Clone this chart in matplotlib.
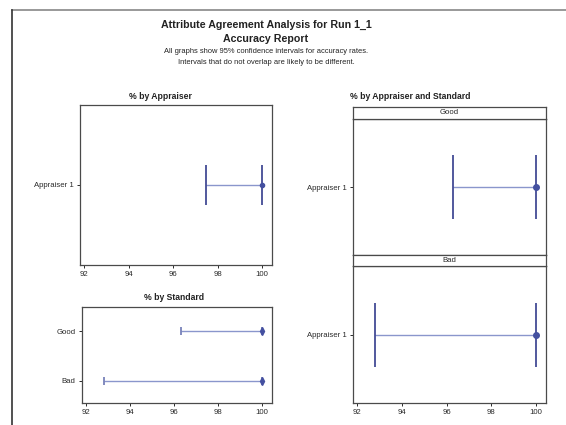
import numpy as np
import matplotlib.pyplot as plt
from matplotlib.lines import Line2D

plt.rcParams['font.family'] = ['Liberation Sans', 'DejaVu Sans']

# Dados (intervalos de 95% para a taxa de acerto)
appraisers = ['Appraiser 1']
appr_pct = [100.0]
appr_lo = [97.5]
appr_hi = [100.0]

standards = ['Bad', 'Good']
std_pct = [100.0, 100.0]
std_lo = [92.8, 96.3]
std_hi = [100.0, 100.0]

panels = ['Good', 'Bad']
panel_pct = [100.0, 100.0]
panel_lo = [96.3, 92.8]
panel_hi = [100.0, 100.0]

xticks = [92, 94, 96, 98, 100]
xlim = (91.8, 100.45)

line_col = '#8a96cc'
cap_col = '#343c8c'
pt_col = '#4450a0'
spine_col = '#4a4a4a'

fig = plt.figure(figsize=(5.66, 4.25), dpi=100)


def style_axes(ax):
    ax.set_xlim(*xlim)
    ax.set_xticks(xticks)
    ax.tick_params(axis='both', direction='out', length=2.5, width=0.7,
                   labelsize=5.6, pad=2, colors='#2a2a2a')
    for s in ax.spines.values():
        s.set_color(spine_col)
        s.set_linewidth(0.9)


def draw_ci(ax, pct, lo, hi, y, capsize, marker, msize, capcol):
    pct = np.array(pct)
    err = [pct - np.array(lo), np.array(hi) - pct]
    dl, caps, bars = ax.errorbar(pct, y, xerr=err, fmt=marker, ms=msize,
                                 color=pt_col, ecolor=line_col, elinewidth=1.0,
                                 capsize=capsize, capthick=1.2)
    for c in caps:
        c.set_color(capcol)
        c.set_markeredgecolor(capcol)
        c.set_markerfacecolor(capcol)


# --- % by Appraiser ---
ax1 = fig.add_axes([0.1413, 0.3765, 0.3392, 0.3765])
y1 = np.arange(len(appraisers))
draw_ci(ax1, appr_pct, appr_lo, appr_hi, y1, 14.4, 'o', 3.0, cap_col)
ax1.set_ylim(-1, 1)
ax1.set_yticks(y1)
ax1.set_yticklabels(appraisers)
style_axes(ax1)

# --- % by Standard ---
ax2 = fig.add_axes([0.1443, 0.0518, 0.3357, 0.2266])
y2 = np.arange(len(standards))
draw_ci(ax2, std_pct, std_lo, std_hi, y2, 3.2, 'd', 4.0, '#6d78b4')
ax2.set_ylim(-0.45, 1.49)
ax2.set_yticks(y2)
ax2.set_yticklabels(standards)
style_axes(ax2)

# --- % by Appraiser and Standard ---
body_pos = [[0.6237, 0.40, 0.3405, 0.32], [0.6237, 0.0518, 0.3405, 0.3222]]
strip_pos = [[0.6237, 0.72, 0.3405, 0.029], [0.6237, 0.374, 0.3405, 0.026]]
for i, name in enumerate(panels):
    ax = fig.add_axes(body_pos[i])
    draw_ci(ax, [panel_pct[i]], [panel_lo[i]], [panel_hi[i]], [0], 23, 'o', 4.0,
            cap_col)
    ax.set_ylim(-1, 1)
    ax.set_yticks([0])
    ax.set_yticklabels(appraisers)
    style_axes(ax)
    if i == 0:
        ax.tick_params(axis='x', bottom=False, labelbottom=False)
    sx = fig.add_axes(strip_pos[i])
    sx.set_xticks([])
    sx.set_yticks([])
    for s in sx.spines.values():
        s.set_color(spine_col)
        s.set_linewidth(0.9)
    sx.text(0.5, 0.5, name, ha='center', va='center', fontsize=5.6,
            color='#2a2a2a', transform=sx.transAxes)

# Títulos
fig.text(0.47, 0.941, 'Attribute Agreement Analysis for Run 1_1', ha='center',
         va='center', fontsize=7.7, fontweight='bold', color='#222222')
fig.text(0.47, 0.908, 'Accuracy Report', ha='center', va='center',
         fontsize=7.7, fontweight='bold', color='#222222')
fig.text(0.47, 0.878, 'All graphs show 95% confidence intervals for accuracy rates.',
         ha='center', va='center', fontsize=5.4, color='#222222')
fig.text(0.47, 0.854, 'Intervals that do not overlap are likely to be different.',
         ha='center', va='center', fontsize=5.4, color='#222222')
fig.text(0.283, 0.774, '% by Appraiser', ha='center', va='center',
         fontsize=6.2, fontweight='bold', color='#222222')
fig.text(0.724, 0.774, '% by Appraiser and Standard', ha='center', va='center',
         fontsize=6.2, fontweight='bold', color='#222222')
fig.text(0.308, 0.300, '% by Standard', ha='center', va='center',
         fontsize=6.2, fontweight='bold', color='#222222')

# Moldura da página digitalizada
fig.add_artist(Line2D([0.021, 1.0], [0.9765, 0.9765], color='#888888', lw=1.2))
fig.add_artist(Line2D([0.021, 0.021], [0.0, 0.9765], color='#333333', lw=1.2))

fig.savefig('out.png', dpi=100)
